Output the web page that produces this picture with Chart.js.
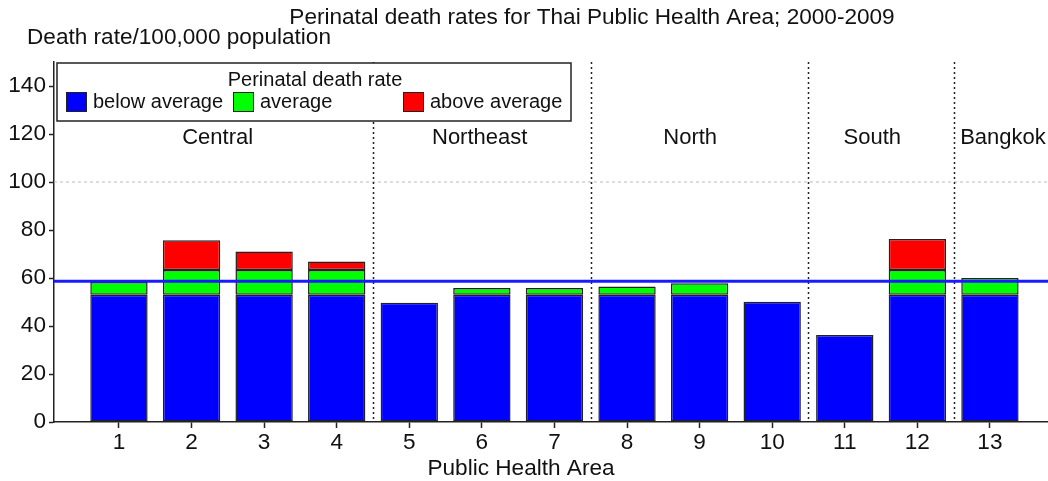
<!DOCTYPE html>
<html>
<head>
<meta charset="utf-8">
<script src="https://cdn.jsdelivr.net/npm/chart.js@4.4.1/dist/chart.umd.min.js"></script>
<style>
  html, body { margin: 0; padding: 0; background: #fff; }
  canvas { display: block; }
</style>
</head>
<body>
<canvas id="myChart" width="1048" height="481"></canvas>
<script>
// Public Health Areas 1-13
var areas = [1, 2, 3, 4, 5, 6, 7, 8, 9, 10, 11, 12, 13];
// stacked parts of the rate (death rate / 100,000)
var belowAvg = [53, 53, 53, 53, 49.7, 53, 53, 53, 53, 50.1, 36.2, 53, 53];
var avgPart  = [5.3, 10.3, 10.3, 10.3, null, 2.8, 2.8, 3.5, 4.8, null, null, 10.3, 7.0];
var abovePart = [null, 12.4, 7.7, 3.6, null, null, null, null, null, null, null, 13.0, null];
var overallRate = 58.6;

var regions = ["Central", "Northeast", "North", "South", "Bangkok"];
var regionLabelAt = [2.36, 5.97, 8.87, 11.38, 13.18];
var regionBreaks = [4.5, 7.5, 10.5, 12.5];
var yTicks = [0, 20, 40, 60, 80, 100, 120, 140];

var FONT = "'Liberation Sans', Arial, sans-serif";
var INK = '#111';

function pts(arr) {
  return areas.map(function (a, i) { return { x: a, y: arr[i] }; });
}

var decor = {
  id: 'decor',
  beforeDatasetsDraw: function (chart) {
    var ctx = chart.ctx, a = chart.chartArea;
    var xs = chart.scales.x, ys = chart.scales.y;
    ctx.save();
    // dotted grid line at 100
    var y100 = ys.getPixelForValue(100);
    ctx.strokeStyle = '#bbb';
    ctx.lineWidth = 1;
    ctx.setLineDash([3, 3]);
    ctx.beginPath();
    ctx.moveTo(a.left, y100);
    ctx.lineTo(a.right, y100);
    ctx.stroke();
    // region separators
    ctx.strokeStyle = '#222';
    ctx.lineWidth = 1.5;
    ctx.setLineDash([2, 3]);
    regionBreaks.forEach(function (b) {
      var x = Math.round(xs.getPixelForValue(b)) + 0.5;
      ctx.beginPath();
      ctx.moveTo(x, a.top);
      ctx.lineTo(x, a.bottom);
      ctx.stroke();
    });
    ctx.restore();
  },
  afterDatasetsDraw: function (chart) {
    var ctx = chart.ctx, a = chart.chartArea;
    var xs = chart.scales.x, ys = chart.scales.y;
    ctx.save();
    // overall average line
    var ya = ys.getPixelForValue(overallRate);
    ctx.strokeStyle = '#1a1aff';
    ctx.lineWidth = 3;
    ctx.beginPath();
    ctx.moveTo(a.left, ya);
    ctx.lineTo(a.right, ya);
    ctx.stroke();
    // region names
    ctx.fillStyle = INK;
    ctx.font = '22px ' + FONT;
    ctx.textAlign = 'center';
    ctx.textBaseline = 'middle';
    regions.forEach(function (r, i) {
      ctx.fillText(r, xs.getPixelForValue(regionLabelAt[i]), 138);
    });
    ctx.restore();
  },
  afterDraw: function (chart) {
    var ctx = chart.ctx;
    ctx.save();
    ctx.fillStyle = INK;
    ctx.textBaseline = 'middle';
    // titles
    ctx.font = '22.6px ' + FONT;
    ctx.textAlign = 'center';
    ctx.fillText('Perinatal death rates for Thai Public Health Area; 2000-2009', 592, 18);
    ctx.fillText('Public Health Area', 521, 469);
    ctx.textAlign = 'left';
    ctx.fillText('Death rate/100,000 population', 27, 38);

    // legend box
    ctx.fillStyle = '#fff';
    ctx.fillRect(57, 63, 514, 58);
    ctx.strokeStyle = '#222';
    ctx.lineWidth = 1.5;
    ctx.strokeRect(57, 63, 514, 58);
    ctx.fillStyle = INK;
    ctx.font = '20px ' + FONT;
    ctx.textAlign = 'center';
    ctx.fillText('Perinatal death rate', 315, 80);
    var cols = [66, 233, 403];
    ctx.textAlign = 'left';
    chart.data.datasets.forEach(function (ds, i) {
      var x = cols[i];
      ctx.fillStyle = ds.backgroundColor;
      ctx.fillRect(x, 92, 20, 19);
      ctx.strokeStyle = '#222';
      ctx.lineWidth = 1;
      ctx.strokeRect(x + 0.5, 92.5, 20, 19);
      ctx.fillStyle = INK;
      ctx.fillText(ds.label, x + 27, 102);
    });
    ctx.restore();
  }
};

new Chart('myChart', {
  type: 'bar',
  data: {
    datasets: [
      { label: 'below average', data: pts(belowAvg), backgroundColor: '#0000ff' },
      { label: 'average', data: pts(avgPart), backgroundColor: '#00ff00' },
      { label: 'above average', data: pts(abovePart), backgroundColor: '#ff0000' }
    ]
  },
  options: {
    responsive: false,
    animation: false,
    layout: { padding: { top: 62, left: 0, right: 0, bottom: 0 } },
    datasets: {
      bar: {
        borderColor: '#222',
        borderWidth: 1.5,
        borderSkipped: false,
        categoryPercentage: 1,
        barPercentage: 0.79
      }
    },
    plugins: {
      legend: { display: false },
      title: { display: false },
      tooltip: { enabled: false }
    },
    scales: {
      x: {
        type: 'linear',
        stacked: true,
        offset: false,
        min: 0.105,
        max: 13.8,
        afterBuildTicks: function (s) { s.ticks = areas.map(function (v) { return { value: v }; }); },
        afterFit: function (s) { s.height = 59; },
        grid: { offset: false, drawOnChartArea: false, tickColor: '#222', tickLength: 6, tickWidth: 1.5 },
        border: { color: '#222', width: 1.5 },
        ticks: { color: INK, font: { family: FONT, size: 22.6 }, padding: 1, autoSkip: false, maxRotation: 0 }
      },
      y: {
        stacked: true,
        min: 0,
        max: 150,
        afterBuildTicks: function (s) { s.ticks = yTicks.map(function (v) { return { value: v }; }); },
        afterFit: function (s) { s.width = 54; },
        grid: { drawOnChartArea: false, tickColor: '#222', tickLength: 5, tickWidth: 1.5 },
        border: { color: '#222', width: 1.5 },
        ticks: { color: INK, font: { family: FONT, size: 22.6 }, padding: 3 }
      }
    }
  },
  plugins: [decor]
});
</script>
</body>
</html>
